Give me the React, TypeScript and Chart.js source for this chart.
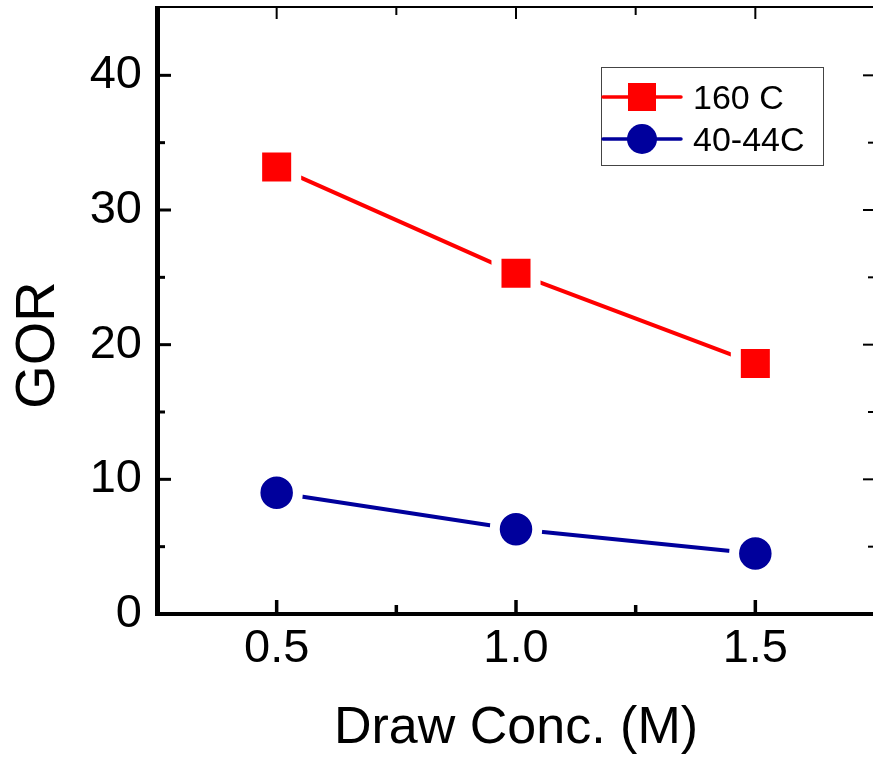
import React, { useEffect, useRef } from "react";
import { Chart, registerables } from "chart.js";

Chart.register(...registerables);

// ---- data ----
const xValues = [0.5, 1.0, 1.5];
const series160C = [33.2, 25.3, 18.6];
const series40C = [9.0, 6.3, 4.5];
const seriesLabels = ["160 C", "40-44C"];
const seriesColors = ["#FF0000", "#00009C"];
const xTicks = [0.5, 1.0, 1.5];
const xTickLabels = ["0.5", "1.0", "1.5"];
const xMinorTicks = [0.75, 1.25];
const yTicks = [0, 10, 20, 30, 40];
const yTickLabels = ["0", "10", "20", "30", "40"];
const yMinorTicks = [5, 15, 25, 35];
const xRange = [0.25, 1.75];
const yRange = [0, 45];
const xTitle = "Draw Conc. (M)";
const yTitle = "GOR";

const FONT = "'Liberation Sans', Arial, sans-serif";

const framePlugin = {
  id: "frame",
  afterDatasetsDraw(chart: any) {
    const { ctx, chartArea: a, scales } = chart;
    const x = scales.x;
    const y = scales.y;
    ctx.save();
    ctx.strokeStyle = "#000";
    ctx.lineCap = "butt";
    const line = (x1: number, y1: number, x2: number, y2: number, w: number) => {
      ctx.lineWidth = w;
      ctx.beginPath();
      ctx.moveTo(x1, y1);
      ctx.lineTo(x2, y2);
      ctx.stroke();
    };
    yTicks.forEach((v) => {
      const p = y.getPixelForValue(v);
      line(a.left, p, a.left + 14, p, 3);
      line(a.right, p, a.right - 12, p, 2);
    });
    yMinorTicks.forEach((v) => {
      const p = y.getPixelForValue(v);
      line(a.left, p, a.left + 8, p, 3);
      line(a.right, p, a.right - 7, p, 2);
    });
    xTicks.forEach((v) => {
      const p = x.getPixelForValue(v);
      line(p, a.bottom, p, a.bottom - 14, 3.5);
      line(p, a.top, p, a.top + 11, 2);
    });
    xMinorTicks.forEach((v) => {
      const p = x.getPixelForValue(v);
      line(p, a.bottom, p, a.bottom - 9, 3.5);
      line(p, a.top, p, a.top + 7, 2);
    });
    line(a.left, a.top - 1, a.right, a.top - 1, 2);
    line(a.right, a.top, a.right, a.bottom, 2);
    line(a.left + 0.5, a.top - 2, a.left + 0.5, a.bottom + 2, 5);
    line(a.left - 2, a.bottom, a.right, a.bottom, 4);

    // y axis title
    ctx.save();
    ctx.fillStyle = "#000";
    ctx.font = `56px ${FONT}`;
    ctx.textAlign = "center";
    ctx.textBaseline = "alphabetic";
    ctx.translate(54, 345);
    ctx.rotate(-Math.PI / 2);
    ctx.fillText(yTitle, 0, 0);
    ctx.restore();

    ctx.restore();
  },
};

const legendPlugin = {
  id: "boxLegend",
  afterDraw(chart: any) {
    const { ctx } = chart;
    const ds = chart.data.datasets;
    ctx.save();
    ctx.strokeStyle = "#444";
    ctx.lineWidth = 1;
    ctx.strokeRect(601.5, 67.5, 222, 98);
    const rows = [97, 139];
    const baselines = [109, 151];
    ds.forEach((d: any, i: number) => {
      const cy = rows[i];
      ctx.strokeStyle = d.borderColor;
      ctx.lineWidth = 3.5;
      ctx.lineCap = "round";
      ctx.beginPath();
      ctx.moveTo(603, cy);
      ctx.lineTo(681, cy);
      ctx.stroke();
      ctx.fillStyle = d.pointBackgroundColor;
      if (d.pointStyle === "rect") {
        ctx.fillRect(642 - 14, cy - 14, 28, 28);
      } else {
        ctx.beginPath();
        ctx.arc(642, cy, 15, 0, Math.PI * 2);
        ctx.fill();
      }
      ctx.fillStyle = "#000";
      ctx.font = `34px ${FONT}`;
      ctx.textAlign = "left";
      ctx.textBaseline = "alphabetic";
      ctx.fillText(d.label, 693, baselines[i]);
    });
    ctx.restore();
  },
};

export default function App() {
  const ref = useRef<HTMLCanvasElement | null>(null);

  useEffect(() => {
    if (!ref.current) return;
    const chart = new Chart(ref.current, {
      type: "line",
      data: {
        datasets: [
          {
            label: seriesLabels[0],
            data: xValues.map((xv, i) => ({ x: xv, y: series160C[i] })),
            borderColor: seriesColors[0],
            backgroundColor: seriesColors[0],
            pointBackgroundColor: seriesColors[0],
            pointBorderColor: "#FFFFFF",
            pointBorderWidth: 10,
            pointStyle: "rect",
            pointRadius: 27.6,
            borderWidth: 4,
            borderCapStyle: "round",
            clip: false,
          } as any,
          {
            label: seriesLabels[1],
            data: xValues.map((xv, i) => ({ x: xv, y: series40C[i] })),
            borderColor: seriesColors[1],
            backgroundColor: seriesColors[1],
            pointBackgroundColor: seriesColors[1],
            pointBorderColor: "#FFFFFF",
            pointBorderWidth: 10,
            pointStyle: "circle",
            pointRadius: 21.25,
            borderWidth: 4,
            borderCapStyle: "round",
            clip: false,
          } as any,
        ],
      },
      options: {
        animation: false,
        responsive: false,
        devicePixelRatio: 1,
        layout: { autoPadding: false, padding: { top: 8, right: 5, left: 0, bottom: 0 } },
        plugins: {
          legend: { display: false },
          tooltip: { enabled: false },
        },
        scales: {
          x: {
            type: "linear",
            position: "bottom",
            min: xRange[0],
            max: xRange[1],
            grid: { display: false, drawTicks: false },
            border: { display: false },
            ticks: {
              color: "#000",
              font: { family: FONT, size: 47 },
              padding: 7,
              maxRotation: 0,
              autoSkip: false,
              callback: (_v: any, i: number) => xTickLabels[i],
            },
            title: {
              display: true,
              text: xTitle,
              color: "#000",
              font: { family: FONT, size: 52, lineHeight: 1.12 },
              padding: { top: 0, bottom: 0 },
            },
            afterBuildTicks: (s: any) => {
              s.ticks = xTicks.map((v) => ({ value: v }));
            },
            afterFit: (s: any) => {
              s.height = 144;
              s.paddingLeft = 0;
              s.paddingRight = 0;
            },
          },
          y: {
            type: "linear",
            min: yRange[0],
            max: yRange[1],
            grid: { display: false, drawTicks: false },
            border: { display: false },
            ticks: {
              color: "#000",
              font: { family: FONT, size: 47 },
              padding: 15,
              autoSkip: false,
              callback: (_v: any, i: number) => yTickLabels[i],
            },
            afterBuildTicks: (s: any) => {
              s.ticks = yTicks.map((v) => ({ value: v }));
            },
            afterFit: (s: any) => {
              s.width = 157;
              s.paddingTop = 0;
              s.paddingBottom = 0;
            },
          },
        },
      } as any,
      plugins: [framePlugin, legendPlugin],
    });
    return () => chart.destroy();
  }, []);

  return (
    <div
      style={{
        position: "absolute",
        left: 0,
        top: 0,
        width: 873,
        height: 758,
        overflow: "hidden",
        background: "#fff",
      }}
    >
      <canvas ref={ref} width={880} height={758} style={{ width: 880, height: 758, display: "block" }} />
    </div>
  );
}
